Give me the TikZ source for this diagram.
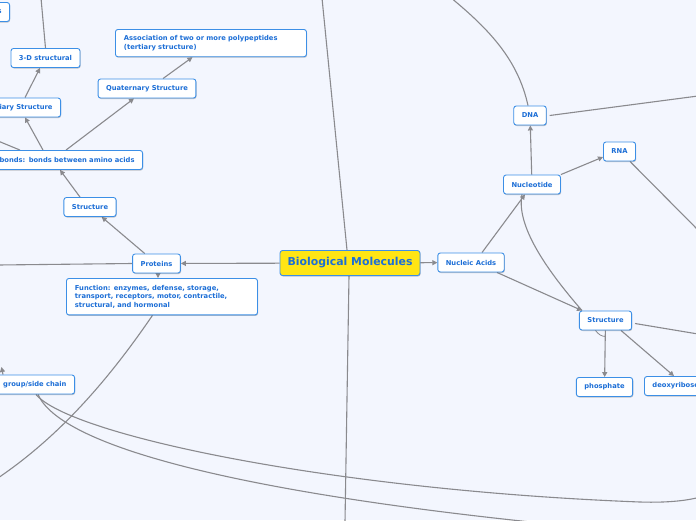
\documentclass[tikz,border=0pt]{standalone}
\usepackage{fontspec}
\setmainfont{DejaVu Sans}
\usetikzlibrary{arrows.meta,shadows,calc}
\definecolor{bgc}{RGB}{243,246,254}
\definecolor{bord}{RGB}{60,143,230}
\definecolor{txt}{RGB}{28,110,214}
\definecolor{yel}{RGB}{255,229,20}
\definecolor{lin}{RGB}{138,138,142}
\pgfdeclarelayer{back}
\pgfdeclarelayer{lines}
\pgfsetlayers{back,lines,main}
\tikzset{
 mmbox/.style={draw=bord, line width=0.9pt, fill=white, rounded corners=2.5pt, text=txt,
   font=\fontsize{6.75}{8.7}\selectfont\bfseries, inner xsep=8pt, inner ysep=0pt, minimum height=19pt,
   drop shadow={shadow xshift=0.6pt, shadow yshift=-1pt, opacity=0.22, fill=black}},
 centralbox/.style={mmbox, fill=yel, font=\fontsize{10.9}{12}\selectfont\bfseries, minimum height=25pt, inner xsep=7.5pt},
 widebox/.style={mmbox, text width=174pt, align=left, inner xsep=8.5pt, inner ysep=6.5pt},
 conn/.style={draw=lin, line width=1.1pt},
 arr/.style={conn, -{Triangle[length=5pt,width=5pt]}},
}
\begin{document}
\begin{tikzpicture}[x=1pt,y=-1pt]
\useasboundingbox (0,0) rectangle (696,520);
\begin{pgfonlayer}{back}
\fill[bgc] (0,0) rectangle (696,520);
\end{pgfonlayer}
% nodes
\node[centralbox] (bio) at (350,263) {Biological Molecules};
\node[mmbox] (prot) at (156.5,263.5) {Proteins};
\node[mmbox] (pstruct) at (90,207) {Structure};
\node[widebox, anchor=north west] (func) at (66,278) {Function: enzymes, defense, storage,\\transport, receptors, motor, contractile,\\structural, and hormonal};
\node[mmbox, anchor=east, text width=160pt, align=right] (bonds) at (143,160) {bonds: bonds between amino acids};
\node[mmbox, anchor=east, text width=90pt, align=right] (tert) at (61,107.5) {Tertiary Structure};
\node[mmbox] (three) at (45.5,58) {3-D structural};
\node[mmbox] (quat) at (147,88.5) {Quaternary Structure};
\node[widebox, anchor=north west, inner ysep=6pt] (assoc) at (115,29) {Association of two or more polypeptides\\(tertiary structure)};
\node[mmbox, anchor=east, text width=40pt, align=right] (snode) at (10,12) {s};
\node[mmbox, anchor=east, text width=90pt, align=right] (group) at (75,384.5) {group/side chain};
\node[mmbox] (nucl) at (471,262.5) {Nucleic Acids};
\node[mmbox] (nuc) at (532,184.5) {Nucleotide};
\node[mmbox] (dna) at (530,115.5) {DNA};
\node[mmbox] (rna) at (619.5,151.5) {RNA};
\node[mmbox] (nstruct) at (605.5,320.5) {Structure};
\node[mmbox] (phos) at (604.5,387) {phosphate};
\node[mmbox, anchor=west] (deox) at (644,386) {deoxyribose};
% free ends
\coordinate (biotop) at (322,-2);
\coordinate (biobot) at (345,522);
\coordinate (lft1) at (-2,265);
\coordinate (lft2) at (-2,141);
\coordinate (bl1) at (-5,480);
\coordinate (top3) at (41,-2);
\coordinate (tipg) at (1.5,367);
\coordinate (topd) at (450,-3);
\coordinate (rd) at (698,96);
\coordinate (rr) at (698,230);
\coordinate (rs) at (698,334);
\coordinate (gmid) at (640,502);
\coordinate (gr1) at (700,497);
\coordinate (gr2) at (560,525);
\begin{pgfonlayer}{lines}
\draw[arr] (bio) -- (prot);
\draw[arr] (bio) -- (nucl);
\draw[conn] ([xshift=-3pt]bio.north) -- (biotop);
\draw[conn] ([xshift=-1pt]bio.south) -- (biobot);
\draw[arr] (prot) -- (pstruct);
\draw[arr] ([xshift=1.5pt]prot.south) -- ([xshift=1.5pt]prot.south |- func.north);
\draw[conn] (prot.west) -- (lft1);
\draw[conn] ([xshift=-9.5pt]func.south) .. controls (105,385) and (55,440) .. (bl1);
\draw[arr] ([xshift=-10pt]pstruct.north) -- ([xshift=-83pt]bonds.south east);
\draw[arr] ([xshift=-100pt]bonds.north east) -- ([xshift=-36pt]tert.south east);
\draw[arr] ([xshift=-77pt]bonds.north east) -- ([xshift=-13pt]quat.south);
\draw[conn] ([xshift=-123pt]bonds.north east) -- (lft2);
\draw[arr] ([xshift=-36pt]tert.north east) -- ([xshift=-5.5pt]three.south);
\draw[conn] (three.north) -- (top3);
\draw[arr] ([xshift=16pt]quat.north) -- ([xshift=-18.5pt]assoc.south);
\draw[arr] ([xshift=-72pt]group.north east) -- (tipg);
\draw[conn] ([xshift=-39pt]group.south east) .. controls (70,435) and (330,490) .. (gmid) .. controls (670,503) and (690,500) .. (gr1);
\draw[conn] ([xshift=-37pt]group.south east) .. controls (60,445) and (230,492) .. (gr2);
% nucleic side
\draw[arr] ([xshift=11pt]nucl.north) -- ([xshift=-7pt]nuc.south);
\draw[arr] ([xshift=26pt]nucl.south) -- ([xshift=-23.5pt]nstruct.north);
\draw[conn] ([xshift=-10pt]nuc.south) .. controls (516,225) and (545,268) .. ([xshift=-23.5pt]nstruct.north);
\draw[arr] (nuc) -- (dna);
\draw[arr] (nuc.north east) -- ([yshift=-5.5pt]rna.west);
\draw[conn] ([xshift=-2pt]dna.north) .. controls (518,60) and (490,30) .. (topd);
\draw[conn] ([xshift=3pt]dna.east) -- (rd);
\draw[conn] ([xshift=-6pt]rna.south east) -- (rr);
\draw[conn] ([xshift=3pt,yshift=-3pt]nstruct.east) -- (rs);
\draw[arr] (nstruct) -- (phos);
\draw[arr] ([xshift=15.5pt]nstruct.south) -- ([xshift=30pt]deox.north west);
\draw[conn, line width=0.8pt] ([xshift=-10pt]nstruct.south) .. controls +(3,4) and +(-4,0) .. ([yshift=-6pt]nstruct.south);
\end{pgfonlayer}
\end{tikzpicture}
\end{document}
